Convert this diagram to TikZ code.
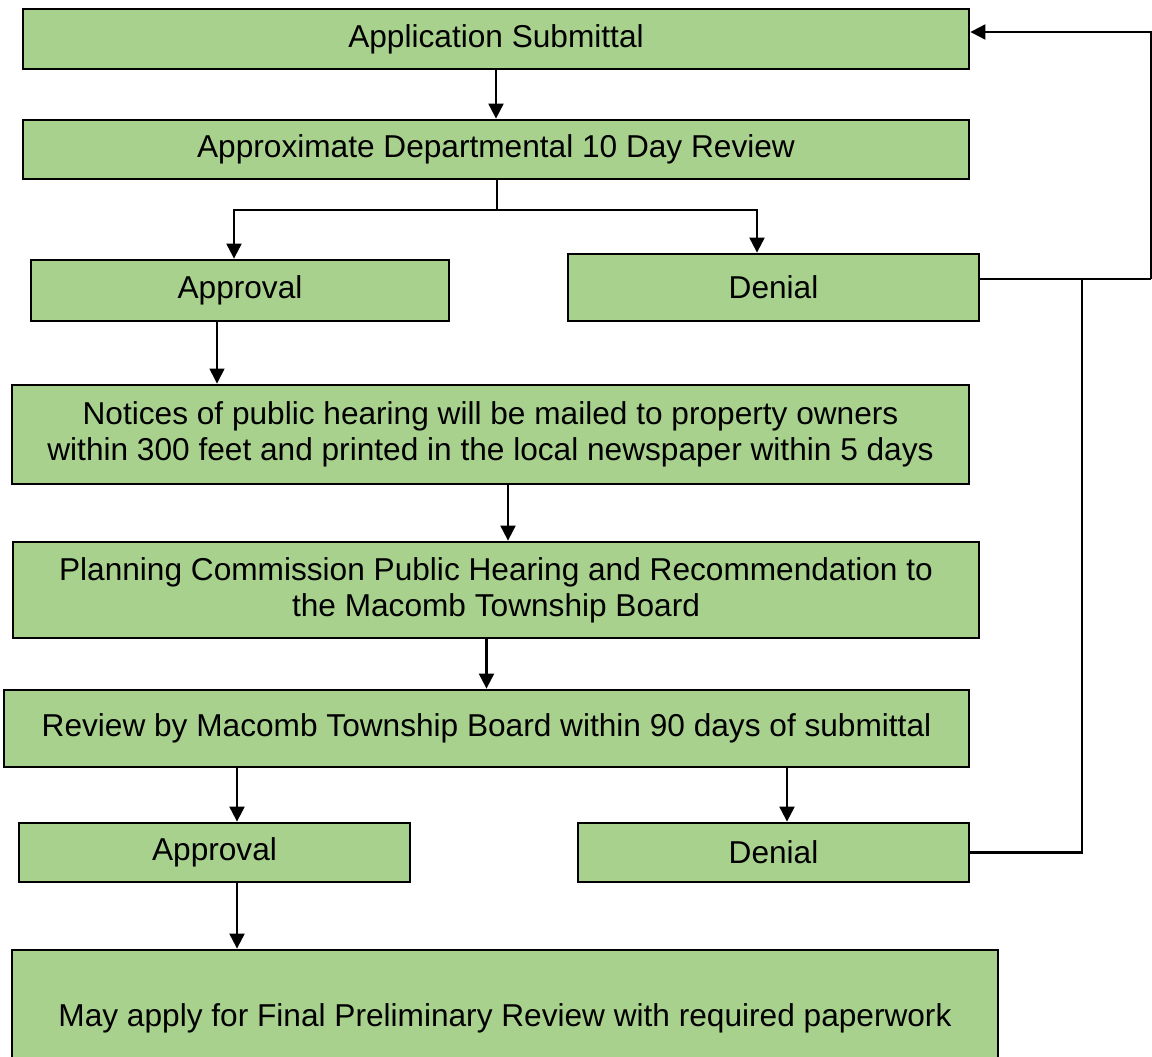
\documentclass[tikz,border=0pt]{standalone}
\usepackage{fontspec}
\setmainfont{Liberation Sans}
\usetikzlibrary{arrows.meta}
\definecolor{boxgreen}{HTML}{A9D18E}

\begin{document}
\begin{tikzpicture}[>={Triangle[length=0.3cm,width=0.3cm]},line width=1.2pt,
  box node/.style={rectangle,draw,line width=1.6pt,fill=boxgreen,align=center,inner sep=0pt,font=\fontsize{18}{20.5}\selectfont},
  link/.style={->,line width=1.2pt}]
  \useasboundingbox (0,0) rectangle (23.04,-21.14);

  \node[box node,minimum width=18.92cm,minimum height=1.2cm] (submit) at (9.92,-0.78) {Application Submittal};
  \node[box node,minimum width=18.92cm,minimum height=1.18cm] (review) at (9.92,-2.99) {Approximate Departmental 10 Day Review};
  \node[box node,minimum width=8.36cm,minimum height=1.22cm] (approve1) at (4.80,-5.81) {Approval};
  \node[box node,minimum width=8.22cm,minimum height=1.34cm] (deny1) at (15.47,-5.75) {Denial};
  \node[box node,minimum width=19.14cm,minimum height=1.98cm] (notices) at (9.81,-8.69) {Notices of public hearing will be mailed to property owners\\within 300 feet and printed in the local newspaper within 5 days};
  \node[box node,minimum width=19.32cm,minimum height=1.92cm] (planning) at (9.92,-11.80) {Planning Commission Public Hearing and Recommendation to\\the Macomb Township Board};
  \node[box node,minimum width=19.30cm,minimum height=1.54cm] (board) at (9.73,-14.57) {Review by Macomb Township Board within 90 days of submittal};
  \node[box node,minimum width=7.82cm,minimum height=1.18cm] (approve2) at (4.29,-17.05) {Approval};
  \node[box node,minimum width=7.82cm,minimum height=1.18cm] (deny2) at (15.47,-17.05) {Denial};
  \node[box node,minimum width=19.72cm,minimum height=2.72cm] (final) at (10.10,-20.36) {May apply for Final Preliminary Review with required paperwork};

  % branch points
  \coordinate (split) at (9.94,-4.2);
  \coordinate (a1out) at ([xshift=-4.6mm]approve1.south);
  \coordinate (nout) at ([xshift=3.5mm]notices.south);
  \coordinate (bleft) at (4.74,-15.34);
  \coordinate (bright) at (15.74,-15.34);
  \coordinate (back1) at (23.02,-5.58);
  \coordinate (back2) at (21.64,-5.58);

  \draw[link] (submit) -- (review);
  \draw (review.south -| split) -- (split);
  \draw[link] (split) -| ([xshift=-1.2mm]approve1.north);
  \draw[link] (split) -| ([xshift=-3.3mm]deny1.north);
  \draw[link,line width=0.6pt] (a1out) -- (a1out |- notices.north);
  \draw[link] (nout) -- (nout |- planning.north);
  \draw[link] (planning.south -| board.north) -- (board.north);
  \draw[link] (board.south -| bleft) -- (bleft |- approve2.north);
  \draw[link] (board.south -| bright) -- (bright |- deny2.north);
  \draw[link] (approve2.south -| bleft) -- (final.north -| bleft);

  % denial loops back
  \draw (deny1.east |- back1) -- (back1);
  \draw[link] (back1) |- ([yshift=1.4mm]submit.east);
  \draw (deny2.east) -| (back2);
\end{tikzpicture}
\end{document}
